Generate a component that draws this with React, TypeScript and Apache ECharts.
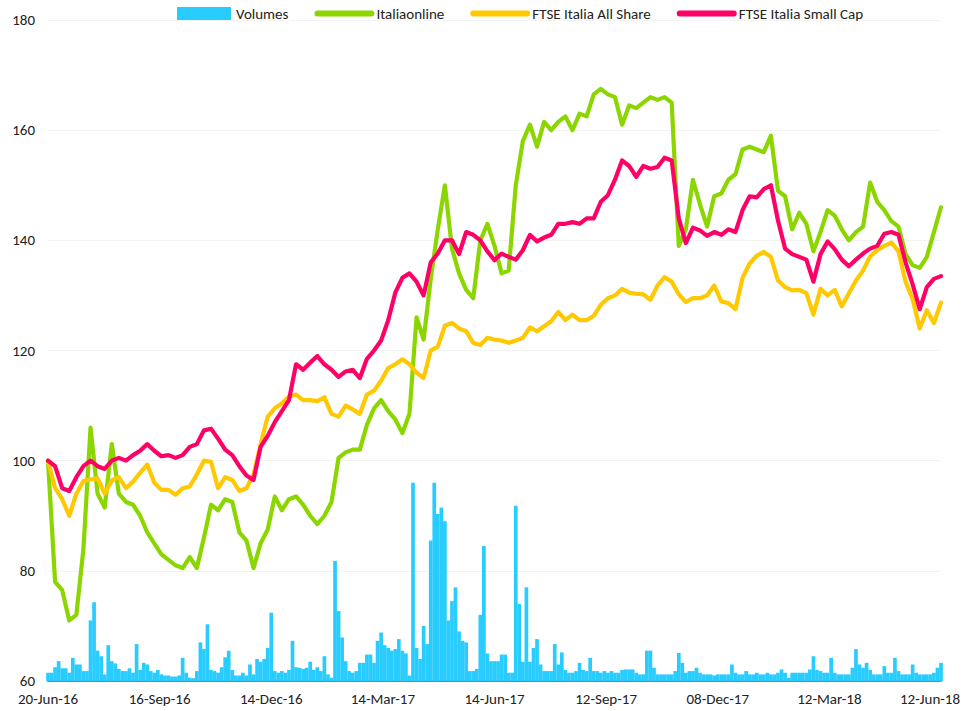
import { useEffect, useRef } from "react";
import * as echarts from "echarts";

const tickLabels = ["20-Jun-16", "16-Sep-16", "14-Dec-16", "14-Mar-17", "14-Jun-17", "12-Sep-17", "08-Dec-17", "12-Mar-18", "12-Jun-18"];
const seriesNames = ["Volumes", "Italiaonline", "FTSE Italia All Share", "FTSE Italia Small Cap"];

// one value every 4 trading days
const italiaonline = [
  100, 78, 76.5, 71, 72, 84, 106, 94, 91.5, 103,
  94, 92.5, 92, 90, 87, 85, 83, 82, 81, 80.5,
  82.5, 80.5, 86, 92, 91, 93, 92.5, 87, 85.5, 80.5,
  85, 87.5, 93.5, 91, 93, 93.5, 92, 90, 88.5, 90,
  92.5, 100.5, 101.5, 102, 102, 106.5, 109.5, 111, 109, 107.5,
  105, 108.5, 126, 122, 133, 142, 150, 138.5, 134, 131,
  129.5, 140, 143, 139, 134, 134.5, 150, 158, 161, 157,
  161.5, 160, 161.5, 162.5, 160, 163, 162.5, 166.5, 167.5, 166.5,
  166, 161, 164.5, 164, 165, 166, 165.5, 166, 165, 139,
  142, 151, 146.5, 142.5, 148, 148.5, 151, 152, 156.5, 157,
  156.5, 156, 159, 149, 148, 142, 145, 143, 138, 141.5,
  145.5, 144.5, 142, 140, 141.5, 142.5, 150.5, 147, 145.5, 143.5,
  142.5, 137.5, 135.5, 135, 137, 141.5, 146,
];

const ftseAllShare = [
  100, 95, 93, 90, 94, 96.3, 96.6, 96.8, 94, 96.4,
  97, 95, 96.2, 97.8, 99.3, 96, 94.7, 94.7, 93.8, 95,
  95.3, 97.5, 100, 99.8, 95, 97, 96.5, 94.5, 95, 97.5,
  103, 108, 109.5, 110.4, 111.6, 112, 111, 111, 110.8, 111.5,
  108.5, 108, 110, 109.3, 108.5, 112, 112.7, 114.5, 116.8, 117.5,
  118.4, 117.5, 116, 115, 120, 120.7, 124.5, 125, 124, 123.5,
  121.4, 121, 122.3, 122, 121.8, 121.4, 121.8, 122.3, 124.2, 123.5,
  124.4, 125.3, 127, 125.5, 126.5, 125.5, 125.5, 126.3, 128.3, 129.5,
  130, 131.2, 130.5, 130.3, 130.2, 129.2, 131.8, 133.3, 132.5, 130.2,
  128.8, 129.5, 129.5, 130, 131.8, 128.9, 128.6, 127.5, 133.2, 135.8,
  137.2, 137.9, 137, 132.7, 131.5, 130.9, 131, 130.4, 126.5, 131.2,
  130, 131, 128, 130.4, 132.7, 134.5, 137.1, 138.2, 139, 139.6,
  138, 132.5, 129.3, 124, 127.3, 125, 128.7,
];

const ftseSmallCap = [
  100, 99, 95, 94.5, 97, 99, 100, 99, 98.5, 100,
  100.5, 100, 101, 101.8, 103, 101.8, 100.8, 101, 100.5, 101,
  102.5, 103, 105.5, 105.8, 104, 102, 101, 99, 97.3, 96.5,
  102.5, 104.5, 107, 109, 111, 117.5, 116.5, 117.8, 119, 117.5,
  116.5, 115.2, 116.2, 116.5, 115, 118.5, 120, 121.8, 125.5, 130.5,
  133.2, 134, 132.5, 130, 136, 137.6, 140, 140, 137.5, 141.5,
  141, 140, 138, 136.4, 137.6, 137, 136.5, 138.2, 141, 139.8,
  140.5, 141, 143, 143, 143.3, 143, 144, 144, 147, 148.2,
  151, 154.5, 153.5, 151.5, 153.5, 153, 153.3, 155, 154.5, 144,
  139.5, 142.3, 141.8, 140.8, 141.5, 141, 142, 141.5, 145.5, 148,
  147.8, 149.3, 150, 143.6, 138.5, 137.5, 137, 136.5, 132.5, 137.5,
  139.8, 138.4, 136.5, 135.3, 136.5, 137.6, 138.5, 139, 141.2, 141.5,
  141, 136, 132, 127.5, 131.5, 133, 133.5,
];

// one value every 2 trading days (arbitrary volume units)
const volumes = [
  1.5, 1.5, 2.5, 3.6, 2.3, 2.3, 1.5, 4.2, 3, 3,
  1.8, 1.8, 11, 14.3, 5.5, 4.5, 1.2, 6.5, 3.6, 3.2,
  2.2, 1.8, 1.8, 2.3, 1.5, 6.7, 2, 3.3, 3, 1.8,
  1.5, 2, 1.2, 1, 1, 0.8, 0.8, 1, 4.2, 1.5,
  0.6, 0.5, 1.8, 7, 5.8, 10.3, 2, 1.8, 1.5, 2.5,
  4.3, 5.5, 2, 1, 1, 1.5, 1, 3, 1.2, 4,
  3.5, 4, 6, 12.4, 1.8, 1.5, 1.8, 1.5, 2, 7.3,
  2.5, 2.4, 2.2, 2.4, 3.5, 2, 2.5, 1.8, 4.5, 1.2,
  0.6, 21.8, 12.7, 7.9, 3.6, 1.8, 1.5, 1.8, 3.3, 3.3,
  4.8, 4.8, 3.3, 7.3, 8.8, 6.5, 6, 5.5, 5.8, 7.6,
  5.5, 5, 1, 36, 6, 4, 10, 6.7, 25.5, 36,
  30.3, 31.5, 29, 11, 14.5, 17, 9, 7.3, 7, 1.8,
  1.8, 2.2, 12, 24.5, 5, 3.6, 3.6, 3.6, 4.8, 4.8,
  1.5, 1.5, 31.8, 14, 3.5, 17, 3.5, 6, 7.6, 3,
  1.8, 1.8, 1.8, 6.7, 3, 5.2, 2, 1.5, 1.5, 1.8,
  3.3, 2, 1.8, 4.2, 1.8, 1.8, 1.5, 1.8, 1.5, 1.8,
  1.5, 1.5, 2, 2.1, 2.1, 2.1, 1.5, 1.2, 1.2, 5.5,
  5.5, 2.4, 1.2, 1.2, 1.2, 1.2, 1.2, 1.8, 5.1, 3.3,
  1.5, 1.8, 1.8, 2.4, 1.5, 1.2, 1.2, 1.2, 1, 1.2,
  1.2, 1.2, 1.2, 3, 1.5, 1.2, 1.2, 1.8, 1.2, 1.2,
  1.5, 1.2, 1.2, 1.5, 1.2, 1.2, 1.5, 2.1, 1.5, 0.6,
  1.5, 1.5, 1.5, 1.5, 1.5, 2.1, 4.5, 2, 1.8, 1.5,
  1.5, 4.2, 1.5, 1.2, 1.2, 1.2, 1.2, 2.4, 5.8, 3,
  2.4, 3.3, 2, 1.2, 1.2, 1.2, 2.7, 1.5, 1.5, 4.2,
  1.8, 1.2, 1.2, 1.2, 3, 1.5, 1.2, 1.2, 1.2, 1.2,
  1.5, 2.4, 3.3,
];

const DAYS_PER_TICK = 63;
const LINE_STEP = 4;
const VOLUME_STEP = 2;

const COLORS = ["#29CCFF", "#8CD600", "#FFC800", "#FF0066"];

export default function App() {
  const ref = useRef<HTMLDivElement>(null);

  useEffect(() => {
    const chart = echarts.init(ref.current!, null, { renderer: "svg" });
    const font = "Carlito, Lato, sans-serif";
    const lastIdx = tickLabels.length - 1;
    const toLine = (arr: number[]) => arr.map((v, i) => [i * LINE_STEP, v]);
    const lineSeries = (name: string, arr: number[], color: string) => ({
      name,
      type: "line",
      data: toLine(arr),
      symbol: "none",
      showSymbol: false,
      lineStyle: { color, width: 4.2, join: "round", cap: "round" },
      itemStyle: { color },
      xAxisIndex: 0,
      yAxisIndex: 0,
    });

    chart.setOption({
      animation: false,
      textStyle: { fontFamily: font },
      color: COLORS,
      legend: {
        top: 1,
        left: 172,
        itemWidth: 54,
        itemHeight: 13,
        itemGap: 26,
        textStyle: { fontFamily: font, fontSize: 15, color: "#222" },
        lineStyle: { width: 6 },
        data: [
          { name: seriesNames[0], icon: "rect" },
          { name: seriesNames[1], itemStyle: { opacity: 0 } },
          { name: seriesNames[2], itemStyle: { opacity: 0 } },
          { name: seriesNames[3], itemStyle: { opacity: 0 } },
        ],
      },
      grid: { left: 48, right: 25, top: 20, bottom: 30 },
      xAxis: {
        type: "value",
        min: 0,
        max: DAYS_PER_TICK * lastIdx,
        interval: DAYS_PER_TICK,
        axisLine: { show: true, lineStyle: { color: "#868686", width: 2 } },
        axisTick: { show: false },
        splitLine: { show: false },
        axisLabel: {
          margin: 10,
          fontFamily: font,
          fontSize: 15,
          color: "#222",
          showMaxLabel: true,
          showMinLabel: true,
          formatter: (v: number) => {
            const i = Math.round(v / DAYS_PER_TICK);
            if (i === lastIdx) return "{last|" + tickLabels[i] + "}";
            return tickLabels[i] ?? "";
          },
          rich: {
            last: { fontFamily: font, fontSize: 15, color: "#222", padding: [0, 22, 0, 0] },
          },
        },
      },
      yAxis: [
        {
          type: "value",
          min: 60,
          max: 180,
          interval: 20,
          axisLine: { show: false },
          axisTick: { show: false },
          splitLine: { show: true, lineStyle: { color: "#f3f3f3", width: 1 } },
          axisLabel: { margin: 13, fontFamily: font, fontSize: 15, color: "#222" },
        },
        {
          type: "value",
          min: 0,
          max: 120,
          show: false,
          splitLine: { show: false },
        },
      ],
      series: [
        {
          name: seriesNames[0],
          type: "bar",
          data: volumes.map((v, i) => [i * VOLUME_STEP, v]),
          barWidth: 3.7,
          itemStyle: { color: COLORS[0] },
          xAxisIndex: 0,
          yAxisIndex: 1,
        },
        lineSeries(seriesNames[1], italiaonline, COLORS[1]),
        lineSeries(seriesNames[2], ftseAllShare, COLORS[2]),
        lineSeries(seriesNames[3], ftseSmallCap, COLORS[3]),
      ],
    });

    return () => chart.dispose();
  }, []);

  return (
    <div
      ref={ref}
      style={{ position: "fixed", left: 0, top: 0, width: 966, height: 711, background: "#fff" }}
    />
  );
}
